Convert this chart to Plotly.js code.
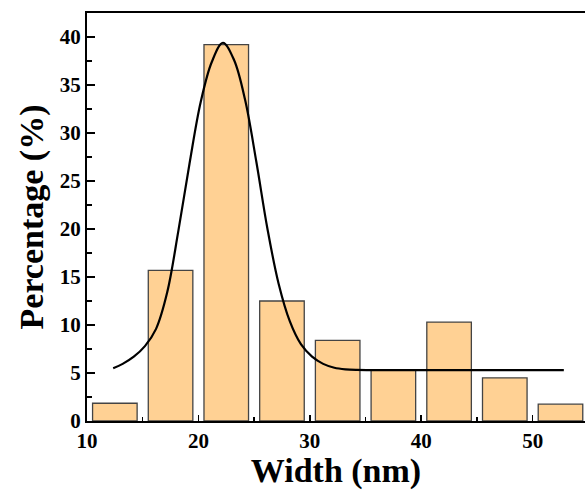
<!DOCTYPE html>
<html>
<head>
<meta charset="utf-8">
<script src="https://cdn.plot.ly/plotly-3.0.1.min.js"></script>
<style>html,body{margin:0;padding:0;background:#fff;}#chart{width:585px;height:490px;}</style>
</head>
<body>
<div id="chart"></div>
<script>
// Histogram bins (centre, nm) and percentages
const binCenters = [12.5, 17.5, 22.5, 27.5, 32.5, 37.5, 42.5, 47.5, 52.5];
const percentages = [1.85, 15.7, 39.2, 12.5, 8.4, 5.3, 10.3, 4.5, 1.75];

// Fit curve points
const fitX = [12.35, 13.2, 14.2, 15.2, 16.2, 17.2, 18.2, 19.2, 20.2, 21.2, 22.2, 23.2, 24.2, 25.2, 26.2, 27.2, 28.2, 29.2, 30.2, 31.2, 32.2, 33.2, 34.2, 36.0, 40.0, 46.0, 52.8];
const fitY = [5.5, 5.95, 6.7, 7.8, 9.6, 13.4, 19.8, 26.8, 33.2, 37.4, 39.4, 37.6, 33.4, 27.0, 20.0, 14.3, 10.4, 8.0, 6.7, 5.95, 5.55, 5.38, 5.32, 5.3, 5.3, 5.3, 5.3];

const xTicks = [10, 20, 30, 40, 50];
const yTicks = [0, 5, 10, 15, 20, 25, 30, 35, 40];

const font = "'Liberation Serif', 'Times New Roman', serif";

const traces = [
  {
    type: 'bar', x: binCenters, y: percentages, width: 4,
    marker: {color: '#FFD194', line: {color: '#444444', width: 1.3}},
    hoverinfo: 'skip'
  },
  {
    type: 'scatter', mode: 'lines', x: fitX, y: fitY,
    line: {color: '#000000', width: 2.2, shape: 'spline', smoothing: 1},
    hoverinfo: 'skip'
  }
];

const layout = {
  width: 585, height: 490,
  margin: {l: 87, r: 0, t: 13, b: 69},
  paper_bgcolor: '#ffffff', plot_bgcolor: '#ffffff',
  showlegend: false,
  xaxis: {
    range: [10, 54.7], showgrid: false, zeroline: false,
    showline: true, linecolor: '#000', linewidth: 2, mirror: true,
    tickmode: 'array', tickvals: xTicks, ticktext: xTicks.map(String),
    ticks: 'inside', ticklen: 6, tickwidth: 1.5, tickcolor: '#000',
    minor: {dtick: 5, tick0: 0, ticks: 'inside', ticklen: 4, tickwidth: 1.5, tickcolor: '#000'},
    tickfont: {family: font, size: 21, color: '#000', weight: 'bold'},
    title: {text: '<b>Width (nm)</b>', font: {family: font, size: 34, color: '#000'}, standoff: 6}
  },
  yaxis: {
    range: [0, 42.5], showgrid: false, zeroline: false,
    showline: true, linecolor: '#000', linewidth: 2, mirror: false,
    tickmode: 'array', tickvals: yTicks, ticktext: yTicks.map(String),
    ticks: 'inside', ticklen: 8, tickwidth: 1.5, tickcolor: '#000',
    minor: {dtick: 2.5, tick0: 0, ticks: 'inside', ticklen: 5, tickwidth: 1.5, tickcolor: '#000'},
    tickfont: {family: font, size: 21, color: '#000', weight: 'bold'},
    title: {text: '<b>Percentage (%)</b>', font: {family: font, size: 34, color: '#000'}, standoff: 6}
  }
};

Plotly.newPlot('chart', traces, layout, {staticPlot: true, displayModeBar: false});
</script>
</body>
</html>
